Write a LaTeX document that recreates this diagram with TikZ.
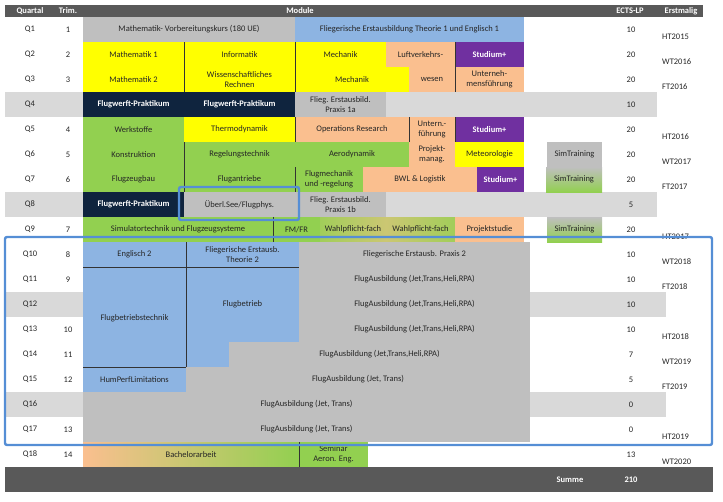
\documentclass[tikz,border=0pt]{standalone}
\usepackage{fontspec}
\setmainfont{Carlito}
\usetikzlibrary{calc}
\definecolor{cgray}{HTML}{BFBFBF}
\definecolor{cstripe}{HTML}{D9D9D9}
\definecolor{cblue}{HTML}{8DB4E2}
\definecolor{cyel}{HTML}{FFFF00}
\definecolor{cgreen}{HTML}{92D050}
\definecolor{cpeach}{HTML}{FABF8F}
\definecolor{cpurp}{HTML}{7030A0}
\definecolor{cnavy}{HTML}{0F243E}
\definecolor{cdark}{HTML}{595959}
\definecolor{chl}{HTML}{558ED5}
\tikzset{
 txt/.style={font=\fontsize{8.5}{9}\selectfont,align=center,inner sep=0pt,text=black!85},
 wtxt/.style={txt,text=white,font=\fontsize{8.5}{9}\selectfont\bfseries},
 sep/.style={draw=black!80,line width=0.7pt},
 hl/.style={draw=chl,line width=2.4pt,rounded corners=2pt}
}
% name, x1,y1,x2,y2, fill, text, textstyle
\newcommand\cel[8]{\fill[#6] (#2,#3) rectangle (#4,#5);
 \node[#8] (#1) at ($(#2,#3)!.5!(#4,#5)$) {#7};}
\begin{document}
\begin{tikzpicture}[x=1pt,y=-1pt]
\useasboundingbox (0,0) rectangle (723,501);
% stripes
\fill[cstripe] (5,92) rectangle (657,117);
\fill[cstripe] (5,192) rectangle (657,217);
\fill[cstripe] (5,292) rectangle (666,317);
\fill[cstripe] (5,392) rectangle (666,417);
% header
\fill[cdark] (5,5) rectangle (703,17);
\node[wtxt] (hq) at (30,11) {Quartal};
\node[wtxt] (ht) at (68,11) {Trim.};
\node[wtxt] (hm) at (300,11) {Module};
\node[wtxt] (he) at (630,11) {ECTS-LP};
\node[wtxt] (hf) at (681,11) {Erstmalig};
% Q1
\cel{a1}{83}{17}{295}{42}{cgray}{Mathematik- Vorbereitungskurs (180 UE)}{txt}
\cel{a2}{295}{17}{524}{42}{cblue}{Fliegerische Erstausbildung Theorie 1 und Englisch 1}{txt}
% Q2/Q3
\cel{b1}{83}{42}{184}{67}{cyel}{Mathematik 1}{txt}
\cel{b2}{184}{42}{295}{67}{cyel}{Informatik}{txt}
\cel{b3}{295}{42}{386}{67}{cyel}{Mechanik}{txt}
\cel{b4}{386}{42}{455}{67}{cpeach}{Luftverkehrs-}{txt}
\cel{b5}{455}{42}{524}{67}{cpurp}{Studium+}{wtxt}
\cel{c1}{83}{67}{184}{92}{cyel}{Mathematik 2}{txt}
\cel{c2}{184}{67}{295}{92}{cyel}{Wissenschaftliches\\[1pt]Rechnen}{txt}
\cel{c3}{295}{67}{409}{92}{cyel}{Mechanik}{txt}
\cel{c4}{409}{67}{455}{92}{cpeach}{wesen}{txt}
\cel{c5}{455}{67}{524}{92}{cpeach}{Unterneh-\\[1pt]mensführung}{txt}
% Q4
\cel{d1}{83}{92}{184}{117}{cnavy}{Flugwerft-Praktikum}{wtxt}
\cel{d2}{184}{92}{295}{117}{cnavy}{Flugwerft-Praktikum}{wtxt}
\cel{d3}{295}{92}{386}{117}{cgray}{Flieg. Erstausbild.\\[1pt]Praxis 1a}{txt}
% Q5
\cel{e1}{83}{117}{184}{142}{cgreen}{Werkstoffe}{txt}
\cel{e2}{184}{117}{295}{142}{cyel}{Thermodynamik}{txt}
\cel{e3}{295}{117}{409}{142}{cpeach}{Operations Research}{txt}
\cel{e4}{409}{117}{455}{142}{cpeach}{Untern.-\\[1pt]führung}{txt}
\cel{e5}{455}{117}{524}{142}{cpurp}{Studium+}{wtxt}
% Q6
\cel{f1}{83}{142}{184}{167}{cgreen}{Konstruktion}{txt}
\cel{f2}{184}{142}{295}{167}{cgreen}{Regelungstechnik}{txt}
\cel{f3}{295}{142}{409}{167}{cgreen}{Aerodynamik}{txt}
\cel{f4}{409}{142}{455}{167}{cpeach}{Projekt-\\[1pt]manag.}{txt}
\cel{f5}{455}{142}{524}{167}{cyel}{Meteorologie}{txt}
\cel{f6}{547}{142}{602}{167}{cgray}{SimTraining}{txt}
% Q7
\cel{g1}{83}{167}{184}{192}{cgreen}{Flugzeugbau}{txt}
\cel{g2}{184}{167}{295}{192}{cgreen}{Flugantriebe}{txt}
\cel{g3}{295}{167}{363}{192}{cgreen}{Flugmechanik\\[1pt]und -regelung}{txt}
\cel{g4}{363}{167}{477}{192}{cpeach}{BWL \& Logistik}{txt}
\cel{g5}{477}{167}{524}{192}{cpurp}{Studium+}{wtxt}
\shade[top color=cgray,bottom color=cgreen] (546,167) rectangle (602,192);
\node[txt] (g6) at (574,179.5) {SimTraining};
% Q8
\cel{h1}{83}{192}{184}{217}{cnavy}{Flugwerft-Praktikum}{wtxt}
\cel{h2}{184}{192}{295}{217}{cgray}{Überl.See/Flugphys.}{txt}
\cel{h3}{295}{192}{386}{217}{cgray}{Flieg. Erstausbild.\\[1pt]Praxis 1b}{txt}
% Q9
\cel{i1}{83}{217}{273}{242}{cgreen}{Simulatortechnik und Flugzeugsysteme}{txt}
\cel{i2}{273}{217}{320}{242}{cgreen}{FM/FR}{txt}
\shade[left color=cgreen!85!cpeach,right color=cpeach!55!cgreen] (320,217) rectangle (386,242);
\node[txt] (i3) at (353,229.5) {Wahlpflicht-fach};
\shade[left color=cpeach!55!cgreen,right color=cgreen!85!cpeach] (386,217) rectangle (455,242);
\node[txt] (i4) at (420.5,229.5) {Wahlpflicht-fach};
\cel{i5}{455}{217}{524}{242}{cpeach}{Projektstudie}{txt}
\shade[top color=cgray,bottom color=cgreen] (547,217) rectangle (602,242);
\node[txt] (i6) at (574.5,229.5) {SimTraining};
% Q10-Q17
\cel{j1}{83}{242}{186}{267}{cblue}{Englisch 2}{txt}
\cel{j2}{186}{242}{299}{267}{cblue}{Fliegerische Erstausb.\\[1pt]Theorie 2}{txt}
\cel{j3}{299}{242}{530}{267}{cgray}{Fliegerische Erstausb. Praxis 2}{txt}
\fill[cblue] (83,267) rectangle (186,367);
\node[txt] (k1) at (134.5,318) {Flugbetriebstechnik};
\fill[cblue] (186,267) rectangle (299,342);
\fill[cblue] (186,342) rectangle (229,367);
\node[txt] (k2) at (242.5,304.5) {Flugbetrieb};
\cel{k3}{299}{267}{530}{292}{cgray}{FlugAusbildung (Jet,Trans,Heli,RPA)}{txt}
\cel{l3}{299}{292}{530}{317}{cgray}{FlugAusbildung (Jet,Trans,Heli,RPA)}{txt}
\cel{m3}{299}{317}{530}{342}{cgray}{FlugAusbildung (Jet,Trans,Heli,RPA)}{txt}
\cel{n3}{229}{342}{530}{367}{cgray}{FlugAusbildung (Jet,Trans,Heli,RPA)}{txt}
\cel{o1}{83}{367}{186}{392}{cblue}{HumPerfLimitations}{txt}
\cel{o3}{186}{367}{530}{392}{cgray}{FlugAusbildung (Jet, Trans)}{txt}
\cel{p3}{83}{392}{530}{417}{cgray}{FlugAusbildung (Jet, Trans)}{txt}
\cel{q3}{83}{417}{530}{442}{cgray}{FlugAusbildung (Jet, Trans)}{txt}
% Q18
\shade[left color=cpeach,right color=cgreen] (83,442) rectangle (299,467);
\node[txt] (r1) at (191,454.5) {Bachelorarbeit};
\cel{r2}{299}{442}{368}{467}{cgreen}{Seminar\\[1pt]Aeron. Eng.}{txt}
% separators
\draw[sep] (184,42) -- (184,92) (295,42) -- (295,92) (455,42) -- (455,92)
 (409,117) -- (409,142) (455,117) -- (455,142) (295,117) -- (295,142)
 (184,142) -- (184,192) (295,167) -- (295,192) (273,217) -- (273,242)
 (186,242) -- (186,367) (83,267) -- (299,267) (83,367) -- (186,367) (299,442) -- (299,467);
% Summe
\fill[cdark] (5,467) rectangle (713,492);
\node[wtxt] (su) at (570,480) {Summe};
\node[wtxt] (sv) at (631,480) {210};
% labels
\foreach \q/\t/\e/\f [count=\i] in {1/1/10/HT2015,2/2/20/WT2016,3/3/20/FT2016,4//10/,5/4/20/HT2016,6/5/20/WT2017,7/6/20/FT2017,8//5/,9/7/20/HT2017,10/8/10/WT2018,11/9/10/FT2018,12//10/,13/10/10/HT2018,14/11/7/WT2019,15/12/5/FT2019,16//0/,17/13/0/HT2019,18/14/13/WT2020}{
 \node[txt] (lq\i) at (30,{4.5+25*\i}) {Q\q};
 \node[txt] (lt\i) at (68,{4.5+25*\i}) {\t};
 \node[txt] (le\i) at (631,{4.5+25*\i}) {\e};
 \node[txt,anchor=west] (lf\i) at (662,{12+25*\i}) {\f};
}
% highlights
\draw[hl] (179,187) rectangle (299,220);
\draw[hl] (5,237) rectangle (712,445);
\end{tikzpicture}
\end{document}
